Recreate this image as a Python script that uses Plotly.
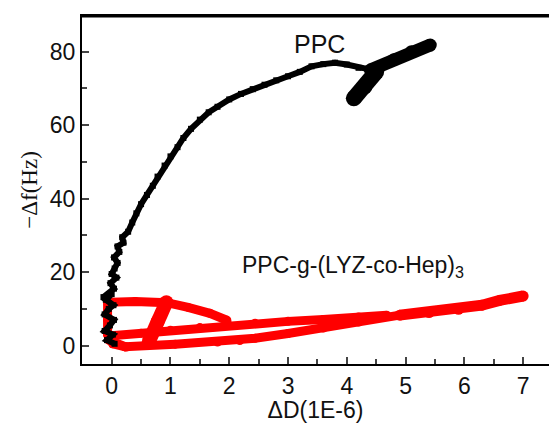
import plotly.graph_objects as go

# PPC (black) trajectory: ΔD (1E-6) vs -Δf (Hz)
ppc_x = [0.05, -0.08, 0.02, -0.12, -0.03, 0.04, -0.12, -0.05, 0.03, -0.1, 0.0, -0.14, 0.04, -0.02, 0.08, 0.0,
         0.05, 0.1, 0.04, 0.13, 0.1, 0.2, 0.18, 0.28, 0.35, 0.42, 0.5, 0.6, 0.7, 0.78, 0.9, 1.0, 1.12,
         1.22, 1.35, 1.5, 1.65, 1.8, 2.0, 2.2, 2.4, 2.6, 2.8, 3.0, 3.2, 3.4, 3.6, 3.8, 4.0, 4.2, 4.4]
ppc_y = [0.5, 1.5, 3.0, 4.0, 5.5, 7.0, 8.5, 10.0, 11.0, 12.5, 14.0, 13.2, 15.5, 17.0, 18.5, 19.5,
         21.0, 22.5, 24.0, 25.5, 27.0, 28.0, 29.5, 31.0, 33.5, 36.0, 38.5, 41.0, 43.5, 46.0, 49.0, 51.5, 54.0,
         56.5, 59.0, 61.5, 63.5, 65.0, 67.0, 68.5, 69.8, 71.0, 72.2, 73.3, 74.5, 76.0, 76.6, 77.0, 76.5, 75.6, 75.1]
# PPC end blobs (dense back-and-forth data)
ppc_up_x = [4.4, 4.8, 5.1, 5.42]
ppc_up_y = [75.0, 77.8, 80.0, 81.8]
ppc_dn_x = [4.5, 4.3, 4.12]
ppc_dn_y = [74.5, 70.5, 67.3]

# PPC-g-(LYZ-co-Hep)3 (red) trajectory, None = break
red_x = [0.25, 0.02, -0.07, -0.07, -0.07, 0.4, 0.94, 1.3, 1.67, 1.96, None,
         -0.06, 0.5, 1.0, 1.5, 2.0, 2.44, 3.0, 3.6, 4.2, 4.68, None,
         -0.05, 0.23, 1.08, 1.8, 2.18, 2.44, 3.0, 3.6, 4.2, 4.9]
red_y = [-0.4, 0.5, 3.0, 7.0, 11.8, 12.0, 11.7, 10.4, 8.8, 6.9, None,
         2.6, 3.4, 4.2, 4.9, 5.5, 6.1, 6.6, 7.1, 7.8, 8.3, None,
         1.5, -0.3, 0.4, 1.0, 1.4, 2.0, 3.3, 4.8, 6.4, 8.3]
red_bar_x = [0.93, 0.78, 0.63]
red_bar_y = [11.8, 6.5, 1.0]
red_end_x = [4.9, 5.4, 5.9, 6.3, 6.6, 7.0]
red_end_y = [8.3, 9.0, 9.9, 11.0, 12.3, 13.5]

xticks = [0, 1, 2, 3, 4, 5, 6, 7]
yticks = [0, 20, 40, 60, 80]
xrange_ = [-0.505, 7.44]
yrange_ = [-5, 89.7]

RED = "#ff0000"
fig = go.Figure()
fig.add_trace(go.Scatter(x=red_x, y=red_y, mode="lines+markers", connectgaps=False,
                         line=dict(color=RED, width=9), marker=dict(color=RED, size=9)))
fig.add_trace(go.Scatter(x=red_bar_x, y=red_bar_y, mode="lines+markers",
                         line=dict(color=RED, width=14), marker=dict(color=RED, size=14)))
fig.add_trace(go.Scatter(x=red_end_x, y=red_end_y, mode="lines+markers",
                         line=dict(color=RED, width=11), marker=dict(color=RED, size=11)))
fig.add_trace(go.Scatter(x=ppc_x, y=ppc_y, mode="lines+markers",
                         line=dict(color="black", width=6),
                         marker=dict(color="black", size=6, symbol="square")))
fig.add_trace(go.Scatter(x=ppc_up_x, y=ppc_up_y, mode="lines+markers",
                         line=dict(color="black", width=13), marker=dict(color="black", size=13)))
fig.add_trace(go.Scatter(x=ppc_dn_x, y=ppc_dn_y, mode="lines+markers",
                         line=dict(color="black", width=16), marker=dict(color="black", size=16)))

axfont = dict(family="Liberation Sans, Arial, sans-serif", size=23, color="#111")
fig.update_layout(
    width=549, height=423, showlegend=False,
    paper_bgcolor="white", plot_bgcolor="white",
    margin=dict(l=82, r=0, t=16, b=59),
    font=axfont,
    xaxis=dict(range=xrange_, tickmode="array", tickvals=xticks, ticktext=[str(v) for v in xticks],
               ticks="inside", ticklen=7, tickwidth=2,
               showline=True, linewidth=2, linecolor="black", mirror=True, showgrid=False,
               zeroline=False, tickfont=axfont,
               minor=dict(ticks="inside", ticklen=5, tickwidth=2,
                          tickvals=[v + 0.5 for v in xticks], showgrid=False),
               title=dict(text="ΔD(1E-6)", font=axfont, standoff=2)),
    yaxis=dict(range=yrange_, tickmode="array", tickvals=yticks, ticktext=[str(v) for v in yticks],
               ticks="inside", ticklen=7, tickwidth=2,
               showline=True, linewidth=2, linecolor="black", showgrid=False,
               zeroline=False, tickfont=axfont,
               minor=dict(ticks="inside", ticklen=5, tickwidth=2,
                          tickvals=[v + 10 for v in yticks], showgrid=False),
               title=dict(text="−Δf(Hz)", font=dict(family="Liberation Serif, Times New Roman, serif",
                                                   size=23, color="#111"), standoff=6)),
    shapes=[dict(type="line", xref="x", yref="y", x0=xrange_[0], x1=xrange_[1],
                 y0=yrange_[1], y1=yrange_[1], line=dict(color="black", width=3), layer="above")],
    annotations=[
        dict(x=3.54, y=82.2, xref="x", yref="y", text="PPC", showarrow=False,
             font=dict(family="Liberation Sans, Arial", size=25, color="#111")),
        dict(x=2.18, y=21.5, xref="x", yref="y", text="PPC-g-(LYZ-co-Hep)<sub>3</sub>",
             showarrow=False, xanchor="left",
             font=dict(family="Liberation Sans, Arial", size=23, color="#111")),
    ],
)
fig.write_html("out.html", config={"displayModeBar": False})
